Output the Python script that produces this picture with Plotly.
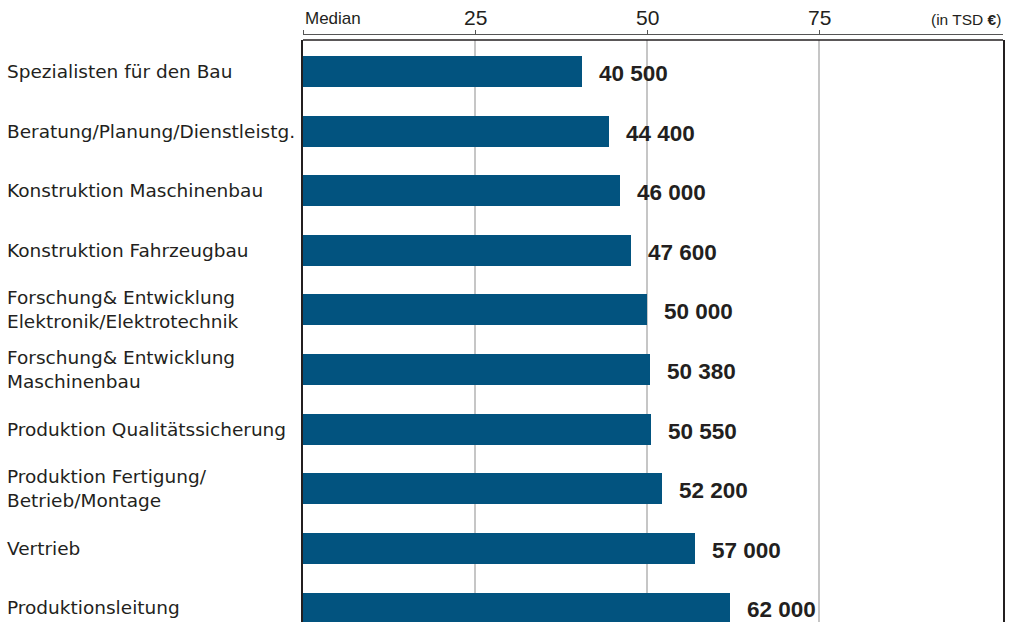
import plotly.graph_objects as go

categories = [
    "Spezialisten für den Bau",
    "Beratung/Planung/Dienstleistg.",
    "Konstruktion Maschinenbau",
    "Konstruktion Fahrzeugbau",
    "Forschung& Entwicklung<br>Elektronik/Elektrotechnik",
    "Forschung& Entwicklung<br>Maschinenbau",
    "Produktion Qualitätssicherung",
    "Produktion Fertigung/<br>Betrieb/Montage",
    "Vertrieb",
    "Produktionsleitung",
]
median_eur = [40500, 44400, 46000, 47600, 50000, 50380, 50550, 52200, 57000, 62000]
tick_values = [0, 25, 50, 75]
tick_labels = ["", "25", "50", "75"]

x_vals = [v / 1000 for v in median_eur]
idx = list(range(len(categories)))

BAR = "#02537f"
TXT = "#231f20"

W, H = 1013, 622
ML, MR, MT, MB = 303, 10, 34, 0
plot_w = W - ML - MR
plot_h = H - MT - MB
gap = 6

fig = go.Figure()
fig.add_trace(go.Bar(
    x=x_vals, y=idx, orientation="h",
    marker=dict(color=BAR, line=dict(width=0)),
    width=0.52, hoverinfo="skip",
))

annotations = []
for i, (c, v, xv) in enumerate(zip(categories, median_eur, x_vals)):
    annotations.append(dict(
        x=-(ML - 5) / plot_w, xref="paper", y=i, yref="y",
        text=c, showarrow=False, xanchor="left", yanchor="middle", align="left",
        font=dict(family="DejaVu Sans", size=18.5, color=TXT),
    ))
    annotations.append(dict(
        x=xv, xref="x", y=i, yref="y",
        text=f"{v:,}".replace(",", " "), showarrow=False,
        xanchor="left", yanchor="middle", xshift=15, yshift=-2,
        font=dict(family="Liberation Sans", size=22.5, color=TXT, weight="bold"),
    ))

# top-axis labels
for tv, tl in zip(tick_values, tick_labels):
    if tl:
        annotations.append(dict(
            x=tv, xref="x", y=1, yref="paper", yshift=3,
            text=tl, showarrow=False, xanchor="center", yanchor="bottom",
            font=dict(family="Liberation Sans", size=21, color=TXT),
        ))

annotations.append(dict(
    x=0, xref="paper", y=1, yref="paper", yshift=4,
    text="Median", showarrow=False, xanchor="left", yanchor="bottom",
    font=dict(family="Liberation Sans", size=17, color=TXT),
))
annotations.append(dict(
    x=1, xref="paper", y=1, yref="paper", yshift=4,
    text="(in TSD <b>€</b>)", showarrow=False, xanchor="right", yanchor="bottom",
    font=dict(family="Liberation Sans", size=15.5, color=TXT),
))

dom_top = 1 - gap / plot_h
fig.update_layout(
    template="none",
    width=W, height=H,
    margin=dict(l=ML, r=MR, t=MT, b=MB, pad=0, autoexpand=False),
    paper_bgcolor="white", plot_bgcolor="white",
    showlegend=False,
    bargap=0,
    xaxis=dict(
        range=[0, 101.7], side="top", anchor="free", position=1,
        automargin=False,
        tickvals=tick_values, showticklabels=False,
        ticks="outside", ticklen=4, tickcolor="#555", tickwidth=1,
        showline=True, linecolor="#555", linewidth=1,
        showgrid=True, gridcolor="#c6c6c6", gridwidth=2,
        zeroline=False,
    ),
    yaxis=dict(
        domain=[0, dom_top], automargin=False,
        range=[9.235, -0.53],
        showticklabels=False, ticks="",
        showgrid=False, zeroline=False,
        showline=True, mirror=True, linecolor="#231f20", linewidth=1.5,
    ),
    annotations=annotations,
    shapes=[dict(
        type="line", xref="paper", yref="paper",
        x0=0, x1=1, y0=dom_top, y1=dom_top,
        line=dict(color="#231f20", width=1.5),
    )],
)

fig.write_html(
    "out.html",
    config={"displayModeBar": False},
    post_script="document.body.style.margin='0';document.body.style.overflow='hidden';",
)
